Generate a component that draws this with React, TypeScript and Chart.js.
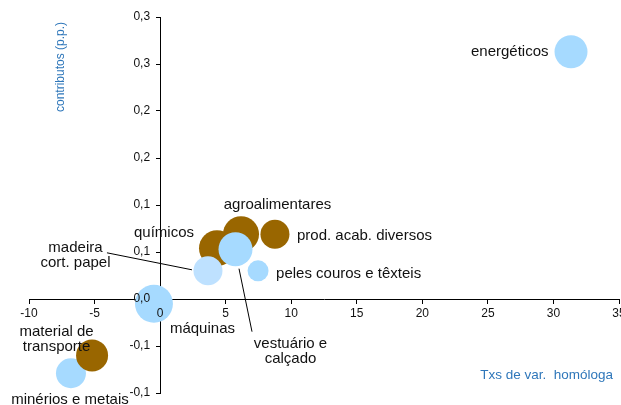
import React, { useEffect, useRef } from "react";
import { Chart, registerables } from "chart.js";

Chart.register(...registerables);

// ---- data ----
const sectors = [
  "minérios e metais",
  "material de transporte",
  "químicos",
  "agroalimentares",
  "prod. acab. diversos",
  "madeira cort. papel",
  "vestuário e calçado",
  "peles couros e têxteis",
  "máquinas",
  "energéticos",
];
const labelLines = [
  ["minérios e metais"],
  ["material de", "transporte"],
  ["químicos"],
  ["agroalimentares"],
  ["prod. acab. diversos"],
  ["madeira", "cort. papel"],
  ["vestuário e", "calçado"],
  ["peles couros e têxteis"],
  ["máquinas"],
  ["energéticos"],
];
const txVar = [-6.8, -5.19, 4.34, 6.17, 8.76, 3.65, 5.75, 7.47, -0.47, 31.34];
const contrib = [-0.079, -0.06, 0.054, 0.069, 0.069, 0.03, 0.053, 0.03, -0.005, 0.263];
const bubbleSize = [15, 16, 18, 18, 14.5, 14.5, 17, 10.5, 19, 16.5];
const colorGroup = ["blue", "brown", "brown", "brown", "brown", "pale", "blue", "blue", "blue", "blue"];

const xMin = -10;
const xMax = 35;
const xStep = 5;
const yMin = -0.1;
const yMax = 0.3;
const yStep = 0.05;
const yTickLabels = ["-0,1", "-0,1", "0,0", "0,1", "0,1", "0,2", "0,2", "0,3", "0,3"];
const yTitle = "contributos (p.p.)";
const xTitle = "Txs de var.  homóloga";

// ---- styling ----
const palette: Record<string, string> = {
  blue: "#A6DAFF",
  pale: "#BEE1FF",
  brown: "#996600",
};
const FONT = '"Liberation Sans", Arial, sans-serif';
const TITLE_COLOR = "#2F77BA";
const Y_LABEL_SHIFT = 10;

// label placement (pixel offsets from bubble centre)
type LabelLayout = {
  dx: number;
  dy: number;
  align: CanvasTextAlign;
  leader?: [number, number, number, number];
};
const labelLayout: LabelLayout[] = [
  { dx: -1, dy: 27, align: "center" },
  { dx: -35.5, dy: -24, align: "center" },
  { dx: -53, dy: -15, align: "center" },
  { dx: 36.5, dy: -29, align: "center" },
  { dx: 22, dy: 1.5, align: "left" },
  { dx: -132.5, dy: -23, align: "center", leader: [-101, -18, -16, -1] },
  { dx: 55, dy: 94.5, align: "center", leader: [3.5, 19.5, 16.5, 82.5] },
  { dx: 18, dy: 3.5, align: "left" },
  { dx: 48.5, dy: 25, align: "center" },
  { dx: -22.5, dy: 0, align: "right" },
];

const shiftYLabels = {
  id: "shiftYLabels",
  beforeDraw(chart: any) {
    const ys = chart.scales.y;
    if (!ys || typeof ys.getLabelItems !== "function") return;
    const items = ys.getLabelItems(chart.chartArea);
    if (items && !items.__shifted) {
      items.forEach((it: any) => {
        if (it.options && it.options.translation) it.options.translation[0] -= Y_LABEL_SHIFT;
      });
      items.__shifted = true;
    }
  },
};

const labelPlugin = {
  id: "bubbleLabels",
  afterDatasetsDraw(chart: any) {
    const ctx: CanvasRenderingContext2D = chart.ctx;
    const meta = chart.getDatasetMeta(0);
    ctx.save();
    ctx.font = `15px ${FONT}`;
    ctx.fillStyle = "#111";
    ctx.strokeStyle = "#000";
    ctx.lineWidth = 1;
    ctx.textBaseline = "middle";
    meta.data.forEach((el: any, i: number) => {
      const L = labelLayout[i];
      const { x, y } = el.getProps(["x", "y"], true);
      if (L.leader) {
        ctx.beginPath();
        ctx.moveTo(x + L.leader[0], y + L.leader[1]);
        ctx.lineTo(x + L.leader[2], y + L.leader[3]);
        ctx.stroke();
      }
      ctx.textAlign = L.align;
      labelLines[i].forEach((t, k) => {
        ctx.fillText(t, x + L.dx, y + L.dy + k * 15.5);
      });
    });
    // axis titles
    const ca = chart.chartArea;
    ctx.fillStyle = TITLE_COLOR;
    ctx.font = `12px ${FONT}`;
    ctx.save();
    ctx.translate(ca.left + 31.5, ca.top + 50);
    ctx.rotate(-Math.PI / 2);
    ctx.textAlign = "center";
    ctx.fillText(yTitle, 0, 0);
    ctx.restore();
    ctx.font = `13.5px ${FONT}`;
    ctx.textAlign = "right";
    ctx.fillText(xTitle, ca.right - 6, ca.bottom - 18);
    ctx.restore();
  },
};

export default function App() {
  const canvasRef = useRef<HTMLCanvasElement | null>(null);

  useEffect(() => {
    if (!canvasRef.current) return;
    const chart = new Chart(canvasRef.current, {
      type: "bubble",
      data: {
        datasets: [
          {
            label: "sectores",
            data: sectors.map((_, i) => ({ x: txVar[i], y: contrib[i], r: bubbleSize[i] })),
            backgroundColor: colorGroup.map((g) => palette[g]),
            borderWidth: 0,
            hoverBorderWidth: 0,
          },
        ],
      },
      options: {
        animation: false,
        responsive: true,
        maintainAspectRatio: false,
        events: [],
        layout: { autoPadding: false, padding: { left: 29, right: 21, top: 17, bottom: 12 } },
        plugins: {
          legend: { display: false },
          tooltip: { enabled: false },
          title: { display: false },
        },
        scales: {
          x: {
            type: "linear",
            min: xMin,
            max: xMax,
            position: { y: 0 } as any,
            grid: {
              display: true,
              drawOnChartArea: false,
              drawTicks: true,
              tickLength: 4,
              color: "#000",
              z: -1,
            },
            border: { display: true, color: "#000", width: 1, z: 0 },
            ticks: {
              stepSize: xStep,
              color: "#111",
              font: { family: FONT, size: 12 },
              padding: 3,
              maxRotation: 0,
              autoSkip: false,
              z: 1,
              callback: (v: any) => String(v),
            },
          },
          y: {
            type: "linear",
            min: yMin,
            max: yMax,
            position: { x: 0 } as any,
            grid: {
              display: true,
              drawOnChartArea: false,
              drawTicks: true,
              tickLength: 4,
              color: "#000",
              z: -1,
            },
            border: { display: true, color: "#000", width: 1, z: 0 },
            ticks: {
              stepSize: yStep,
              color: "#111",
              font: { family: FONT, size: 12 },
              padding: 0,
              autoSkip: false,
              z: 1,
              callback: (_v: any, i: number) => yTickLabels[i],
            },
          },
        },
      },
      plugins: [shiftYLabels, labelPlugin],
    });
    return () => chart.destroy();
  }, []);

  return (
    <div
      style={{
        position: "absolute",
        left: 0,
        top: 0,
        width: 621,
        height: 405,
        overflow: "hidden",
        background: "#fff",
      }}
    >
      <div style={{ position: "relative", width: 640, height: 405 }}>
        <canvas ref={canvasRef} />
      </div>
    </div>
  );
}
